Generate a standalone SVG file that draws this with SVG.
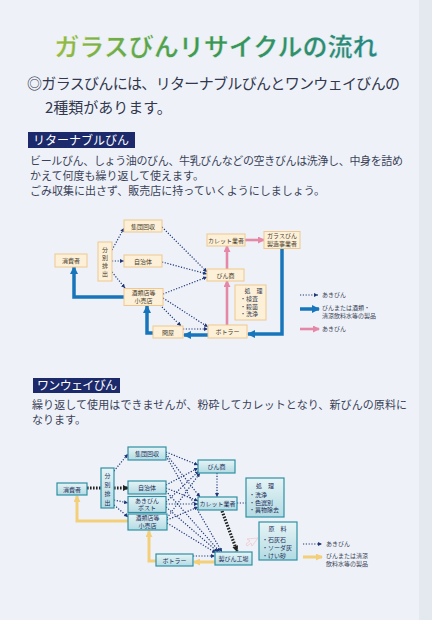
<svg xmlns="http://www.w3.org/2000/svg" width="432" height="620" viewBox="0 0 432 620">
<defs>
<linearGradient id="tg" gradientUnits="userSpaceOnUse" x1="55" y1="0" x2="378" y2="0">
<stop offset="0" stop-color="#98bb45"/><stop offset="0.45" stop-color="#3a9852"/><stop offset="1" stop-color="#268684"/>
</linearGradient>
<linearGradient id="cg" x1="0" y1="0" x2="0" y2="1">
<stop offset="0" stop-color="#e6f4f6"/><stop offset="1" stop-color="#b3dbe3"/>
</linearGradient>
<marker id="an" viewBox="0 0 4 4" refX="4" refY="2" markerWidth="4" markerHeight="4" markerUnits="userSpaceOnUse" orient="auto"><path d="M0,0L4,2L0,4z" fill="#1f3678"/></marker>
<marker id="ab" viewBox="0 0 8 8" refX="7" refY="4" markerWidth="8" markerHeight="8" markerUnits="userSpaceOnUse" orient="auto"><path d="M0,0L8,4L0,8z" fill="#1776bb"/></marker>
<marker id="ap" viewBox="0 0 7 7" refX="6" refY="3.5" markerWidth="7" markerHeight="7" markerUnits="userSpaceOnUse" orient="auto"><path d="M0,0L7,3.5L0,7z" fill="#e587a6"/></marker>
<marker id="ay" viewBox="0 0 7 7" refX="6" refY="3.5" markerWidth="7" markerHeight="7" markerUnits="userSpaceOnUse" orient="auto"><path d="M0,0L7,3.5L0,7z" fill="#f2cf78"/></marker>
<marker id="ak" viewBox="0 0 6 6" refX="5" refY="3" markerWidth="6" markerHeight="6" markerUnits="userSpaceOnUse" orient="auto"><path d="M0,0L6,3L0,6z" fill="#222"/></marker>
</defs>
<style>
text{font-family:"Noto Sans CJK JP","Noto Sans CJK SC",sans-serif}
.body{font-size:11px;fill:#3b4259}
.hd{font-size:12px;fill:#fff}
.n1{fill:#fcf1d8;stroke:#f0c78e;stroke-width:1}
.n2{fill:url(#cg);stroke:#2f8fa3;stroke-width:1.2}
.t1{font-size:6px;fill:#4a3a2a;text-anchor:middle}
.t2{font-size:6px;fill:#1d2d5a;text-anchor:middle}
.tl{font-size:6px;fill:#3a3f55}
.tl2{font-size:6px;fill:#1d2d5a}
.dot{fill:none;stroke:#1f3678;stroke-width:1.2;stroke-dasharray:1.2 1.6;marker-end:url(#an)}
.dotn{fill:none;stroke:#1f3678;stroke-width:1.2;stroke-dasharray:1.2 1.6}
.blue{fill:none;stroke:#1776bb;stroke-width:3.5;marker-end:url(#ab)}
.pink{fill:none;stroke:#e587a6;stroke-width:2.6;marker-end:url(#ap)}
.yel{fill:none;stroke:#f2cf78;stroke-width:3;marker-end:url(#ay)}
.blk{fill:none;stroke:#222;stroke-width:3.2;stroke-dasharray:1.6 1.4;marker-end:url(#ak)}
</style>
<rect width="432" height="620" fill="#eef2f8"/>
<rect x="419" width="13" height="620" fill="#e4e9f0"/>

<g id="title">
<text x="216" y="56" text-anchor="middle" font-size="25" font-weight="bold" fill="url(#tg)" stroke="#f4f8f0" stroke-width="0.4">ガラスびんリサイクルの流れ</text>
</g>
<g id="intro">
<text x="27" y="89" font-size="15" fill="#33384e" textLength="373">◎ガラスびんには、リターナブルびんとワンウェイびんの</text>
<text x="45" y="113" font-size="15" fill="#33384e">2種類があります。</text>
</g>

<g id="sec1-header">
<rect x="28" y="132" width="107" height="16" fill="#1c2a6b"/>
<text x="33" y="145" class="hd" textLength="96">リターナブルびん</text>
</g>
<g id="sec1-text">
<text x="30" y="164.5" class="body" textLength="373">ビールびん、しょう油のびん、牛乳びんなどの空きびんは洗浄し、中身を詰め</text>
<text x="30" y="179.5" class="body">かえて何度も繰り返して使えます。</text>
<text x="30" y="194.5" class="body">ごみ収集に出さず、販売店に持っていくようにしましょう。</text>
</g>

<g id="connectors1">
<path class="dot" d="M112,250L124,228"/>
<path class="dot" d="M112,261L124,261"/>
<path class="dot" d="M112,272L125,288"/>
<path class="dot" d="M162,227L207,272"/>
<path class="dot" d="M162,262L207,274"/>
<path class="dot" d="M163,294L207,277"/>
<path class="dot" d="M163,298L208,327"/>
<path class="dot" d="M160,305L181,326"/>
<path class="dot" d="M183,329L208,329"/>
<path class="blue" d="M208,335L184,335"/>
<path class="blue" d="M153,333H147V306"/>
<path class="blue" d="M124,297H74V267"/>
<path class="blue" d="M282,248V334H248"/>
<path class="pink" d="M227,325V281"/>
<path class="pink" d="M227,269V246"/>
<path class="pink" d="M245,240H264"/>
</g>

<g id="n1-consumer"><rect class="n1" x="55" y="254" width="32" height="13"/><text class="t1" x="71" y="263">消費者</text></g>
<g id="n1-sort"><rect class="n1" x="98" y="242" width="14" height="39"/>
<text class="t1" font-size="6.5"><tspan x="105" y="252">分</tspan><tspan x="105" y="260">別</tspan><tspan x="105" y="268">排</tspan><tspan x="105" y="276">出</tspan></text></g>
<g id="n1-group"><rect class="n1" x="124" y="220" width="38" height="12"/><text class="t1" x="143" y="228.5">集団回収</text></g>
<g id="n1-city"><rect class="n1" x="124" y="255" width="38" height="12"/><text class="t1" x="143" y="263.5">自治体</text></g>
<g id="n1-shop"><rect class="n1" x="124" y="288.5" width="39" height="17"/><text class="t1" font-size="5.2"><tspan x="143.5" y="295">酒類店等</tspan><tspan x="143.5" y="302.6">小売店</tspan></text></g>
<g id="n1-wholesale"><rect class="n1" x="153" y="326" width="30" height="12"/><text class="t1" x="168" y="334.5">問屋</text></g>
<g id="n1-binsho"><rect class="n1" x="207" y="269" width="37" height="12"/><text class="t1" x="225.5" y="277.5">びん商</text></g>
<g id="n1-cullet"><rect class="n1" x="207" y="234" width="38" height="12"/><text class="t1" x="226" y="242.5">カレット業者</text></g>
<g id="n1-maker"><rect class="n1" x="264" y="231.5" width="36" height="17"/><text class="t1" font-size="5"><tspan x="282" y="238.3">ガラスびん</tspan><tspan x="282" y="245.8">製造事業者</tspan></text></g>
<g id="n1-process"><rect class="n1" x="235" y="285" width="31" height="35"/>
<text class="tl"><tspan x="244.5" y="293">処　理</tspan><tspan x="240" y="301">・検査</tspan><tspan x="240" y="308.5">・殺菌</tspan><tspan x="240" y="316">・洗浄</tspan></text></g>
<g id="n1-bottler"><rect class="n1" x="208" y="325" width="39" height="13"/><text class="t1" x="227.5" y="334">ボトラー</text></g>

<g id="legend1">
<path class="dot" d="M300,295H318"/><text class="tl" x="322" y="297">あきびん</text>
<path class="blue" d="M300,309H319"/><text class="tl"><tspan x="322" y="310">びんまたは酒類・</tspan><tspan x="322" y="317.5">清涼飲料水等の製品</tspan></text>
<path class="pink" d="M300,329H319"/><text class="tl" x="322" y="331">あきびん</text>
</g>

<g id="sec2-header">
<rect x="33" y="378" width="87" height="15" fill="#1c2a6b"/>
<text x="37" y="390" class="hd" textLength="80">ワンウェイびん</text>
</g>
<g id="sec2-text">
<text x="32" y="409" class="body" textLength="375">繰り返して使用はできませんが、粉砕してカレットとなり、新びんの原料に</text>
<text x="32" y="424" class="body">なります。</text>
</g>

<g id="connectors2">
<path d="M87,488H101" fill="none" stroke="#222" stroke-width="3.2" stroke-dasharray="1.6 1.4"/>
<path class="blk" d="M114,488H128"/>
<path class="dot" d="M114,471L128,454"/>
<path class="dot" d="M114,500L128,503"/>
<path class="dot" d="M114,505L128,517"/>
<path class="dot" d="M166,452L198,465"/>
<path class="dot" d="M166,454L200,497"/>
<path class="dot" d="M166,456L222,552"/>
<path class="dot" d="M166,485L198,468"/>
<path class="dot" d="M166,488L198,501"/>
<path class="dot" d="M166,491L220,552"/>
<path class="dot" d="M166,502L199,471"/>
<path class="dot" d="M166,504L198,504"/>
<path class="dot" d="M166,507L218,552"/>
<path class="dot" d="M167,518L200,473"/>
<path class="dot" d="M167,520L198,507"/>
<path class="dot" d="M167,523L216,553"/>
<path class="dot" d="M217,473V497"/>
<path class="dotn" d="M237,503H246"/>
<path class="blk" d="M222,511L237,551"/>
<path class="dot" d="M193,556H215"/>
<path class="yel" d="M215,562H194"/>
<path class="yel" d="M156,561H149V531"/>
<path class="yel" d="M128,521H77V496"/>
<path d="M258,538L252,546L251,543L247,546L246,544L250,541L247,539z" fill="none" stroke="#f0c8cf" stroke-width="0.8"/>
</g>

<g id="n2-consumer"><rect class="n2" x="57" y="483" width="30" height="12"/><text class="t2" x="72" y="491.5">消費者</text></g>
<g id="n2-sort"><rect class="n2" x="101" y="468" width="13" height="40"/>
<text class="t2" font-size="6.5"><tspan x="107.5" y="478">分</tspan><tspan x="107.5" y="487">別</tspan><tspan x="107.5" y="496">排</tspan><tspan x="107.5" y="505">出</tspan></text></g>
<g id="n2-group"><rect class="n2" x="128" y="447" width="38" height="13"/><text class="t2" x="147" y="456">集団回収</text></g>
<g id="n2-city"><rect class="n2" x="128" y="481" width="38" height="13"/><text class="t2" x="147" y="490">自治体</text></g>
<g id="n2-post"><rect class="n2" x="128" y="496.5" width="38" height="16"/><text class="t2" font-size="5"><tspan x="147" y="502.8">あきびん</tspan><tspan x="147" y="510.3">ポスト</tspan></text></g>
<g id="n2-shop"><rect class="n2" x="128" y="514" width="39" height="16"/><text class="t2" font-size="5"><tspan x="147.5" y="520.3">酒類店等</tspan><tspan x="147.5" y="527.8">小売店</tspan></text></g>
<g id="n2-bottler"><rect class="n2" x="156" y="554" width="37" height="12"/><text class="t2" x="174.5" y="562.5">ボトラー</text></g>
<g id="n2-binsho"><rect class="n2" x="198" y="460" width="37" height="13"/><text class="t2" x="216.5" y="469">びん商</text></g>
<g id="n2-cullet"><rect class="n2" x="198" y="497" width="39" height="13"/><text class="t2" x="217.5" y="506">カレット業者</text></g>
<g id="n2-factory"><rect class="n2" x="215" y="552" width="37" height="13"/><text class="t2" x="233.5" y="561">製びん工場</text></g>
<g id="n2-process"><rect class="n2" x="246" y="478" width="38" height="39"/>
<text class="tl2"><tspan x="256" y="487.5">処　理</tspan><tspan x="249" y="497">・洗浄</tspan><tspan x="249" y="504.5">・色選別</tspan><tspan x="249" y="512">・異物除去</tspan></text></g>
<g id="n2-material"><rect class="n2" x="259" y="522" width="38" height="38"/>
<text class="tl2" font-size="6.5"><tspan x="268.5" y="531" font-size="6">原　料</tspan><tspan x="262" y="541.5">・石灰石</tspan><tspan x="262" y="549.5">・ソーダ灰</tspan><tspan x="262" y="557.5">・けい砂</tspan></text></g>

<g id="legend2">
<path class="dot" d="M303,544H322"/><text class="tl" x="326" y="546">あきびん</text>
<path class="yel" d="M303,557H322"/><text class="tl"><tspan x="326" y="558">びんまたは清涼</tspan><tspan x="326" y="565.5">飲料水等の製品</tspan></text>
</g>
</svg>
